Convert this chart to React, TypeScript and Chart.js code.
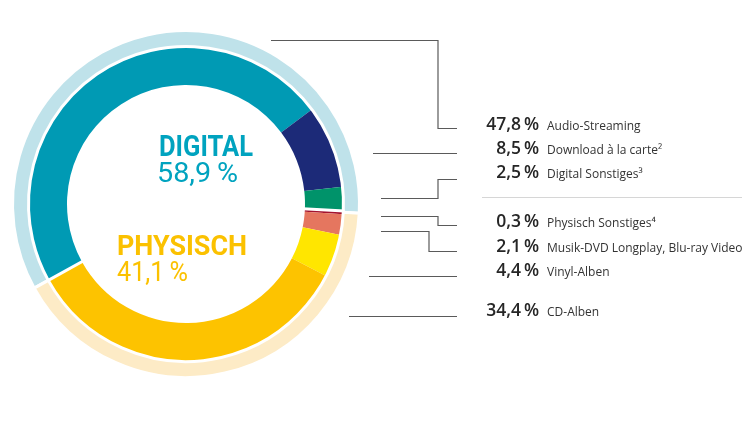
import React, { useEffect, useRef } from "react";
import { Chart, registerables } from "chart.js";

Chart.register(...registerables);

// ---------- data ----------
const groupLabels = ["DIGITAL", "PHYSISCH"];
const groupValues = [58.9, 41.1];

const segmentLabels = [
  "Audio-Streaming",
  "Download à la carte²",
  "Digital Sonstiges³",
  "Physisch Sonstiges⁴",
  "Musik-DVD Longplay, Blu-ray Video",
  "Vinyl-Alben",
  "CD-Alben",
];
const segmentValues = [47.8, 8.5, 2.5, 0.3, 2.1, 4.4, 34.4];

// ---------- styles ----------
const groupColors = ["#bfe2ea", "#fdebc6"];
const groupTextColors = ["#00a3bf", "#fbc100"];
const segmentColors = ["#009ab4", "#1c2a78", "#00936a", "#a3132f", "#e5765f", "#ffe600", "#fdc300"];

// ---------- annotation layout ----------
const rowBaselines = [130, 154, 178, 227, 252, 276, 316];
const leaderPaths: number[][][] = [
  [[271, 40], [438, 40], [438, 128], [457, 128]],
  [[373, 153], [457, 153]],
  [[381, 198], [438, 198], [438, 179], [457, 179]],
  [[381, 216], [438, 216], [438, 225], [457, 225]],
  [[381, 231], [429, 231], [429, 251], [457, 251]],
  [[369, 276], [457, 276]],
  [[349, 316], [457, 316]],
];
const pctRight = 539;
const labelLeft = 547;

const fmt = (v: number) => v.toFixed(1).replace(".", ",") + "\u2009%";

function drawCondensed(
  ctx: CanvasRenderingContext2D,
  text: string,
  x: number,
  y: number,
  font: string,
  color: string,
  targetWidth: number
) {
  ctx.save();
  ctx.font = font;
  ctx.fillStyle = color;
  ctx.textAlign = "left";
  ctx.textBaseline = "alphabetic";
  const w = ctx.measureText(text).width;
  ctx.translate(x, y);
  ctx.scale(targetWidth / w, 1);
  ctx.fillText(text, 0, 0);
  ctx.restore();
}

const decorPlugin = {
  id: "decor",
  afterDatasetsDraw(chart: any) {
    const ctx: CanvasRenderingContext2D = chart.ctx;
    const outerMeta = chart.getDatasetMeta(0);
    const innerMeta = chart.getDatasetMeta(1);
    const a0 = outerMeta.data[0];
    const i0 = innerMeta.data[0];
    // white separating gaps at the digital / physical boundaries of the inner ring
    // shift: 0 = centred on boundary, -1 = placed entirely on the preceding side
    const gaps = [
      { ang: a0.startAngle, shift: 0 },
      { ang: a0.endAngle, shift: -1.5 },
    ];
    ctx.save();
    ctx.strokeStyle = "#ffffff";
    ctx.lineWidth = 3;
    for (const g of gaps) {
      const px = -Math.sin(g.ang) * -g.shift;
      const py = Math.cos(g.ang) * -g.shift;
      const r1 = i0.innerRadius - 2;
      const r2 = i0.outerRadius + 1;
      ctx.beginPath();
      ctx.moveTo(i0.x + Math.cos(g.ang) * r1 - px, i0.y + Math.sin(g.ang) * r1 - py);
      ctx.lineTo(i0.x + Math.cos(g.ang) * r2 - px, i0.y + Math.sin(g.ang) * r2 - py);
      ctx.stroke();
    }
    ctx.restore();
  },
  afterDraw(chart: any) {
    const ctx: CanvasRenderingContext2D = chart.ctx;
    // center texts
    drawCondensed(ctx, groupLabels[0], 159, 156, "bold 29px Roboto", groupTextColors[0], 94);
    drawCondensed(ctx, fmt(groupValues[0]), 157, 182, "27px Roboto", groupTextColors[0], 81);
    drawCondensed(ctx, groupLabels[1], 117, 255, "bold 28px Roboto", groupTextColors[1], 130);
    drawCondensed(ctx, fmt(groupValues[1]), 117, 281, "27px Roboto", groupTextColors[1], 71);

    // leader lines
    ctx.save();
    ctx.strokeStyle = "#5a5a5a";
    ctx.lineWidth = 1.2;
    for (const path of leaderPaths) {
      ctx.beginPath();
      path.forEach(([x, y], i) => (i === 0 ? ctx.moveTo(x, y + 0.5) : ctx.lineTo(x, y + 0.5)));
      ctx.stroke();
    }
    // separator
    ctx.strokeStyle = "#d6d6d6";
    ctx.lineWidth = 1;
    ctx.beginPath();
    ctx.moveTo(482, 197.5);
    ctx.lineTo(742, 197.5);
    ctx.stroke();

    // labels
    ctx.textBaseline = "alphabetic";
    segmentValues.forEach((v, i) => {
      const y = rowBaselines[i];
      ctx.fillStyle = "#262626";
      ctx.textAlign = "right";
      ctx.font = "600 17.5px 'Open Sans'";
      ctx.fillText(fmt(v), pctRight, y);
      ctx.textAlign = "left";
      ctx.fillStyle = "#333333";
      ctx.font = "12px 'Open Sans'";
      ctx.fillText(segmentLabels[i], labelLeft, y);
    });
    ctx.restore();
  },
};

export default function App() {
  const ref = useRef<HTMLCanvasElement>(null);

  useEffect(() => {
    if (!ref.current) return;
    const chart = new Chart(ref.current, {
      type: "doughnut",
      data: {
        labels: segmentLabels,
        datasets: [
          {
            data: groupValues,
            backgroundColor: groupColors,
            borderColor: "#ffffff",
            borderWidth: 3,
            weight: 16,
          },
          {
            data: segmentValues,
            backgroundColor: segmentColors,
            borderWidth: 0,
            weight: 38.5,
          },
        ],
      },
      options: {
        responsive: false,
        animation: false,
        rotation: 241,
        radius: 173.5,
        cutout: "68.59%",
        layout: { padding: { left: 14, top: 32, right: 392, bottom: 46 } },
        plugins: {
          legend: { display: false },
          tooltip: { enabled: false },
        },
        events: [],
      },
      plugins: [decorPlugin],
    } as any);
    return () => chart.destroy();
  }, []);

  return (
    <div style={{ position: "absolute", left: 0, top: 0, width: 750, height: 422, background: "#fff" }}>
      <canvas ref={ref} width={750} height={422} style={{ width: 750, height: 422 }} />
    </div>
  );
}
